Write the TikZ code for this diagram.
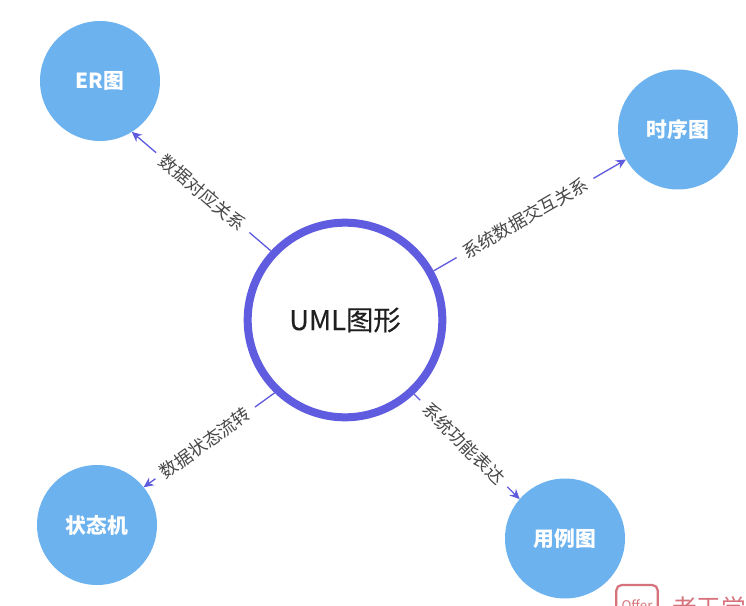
\documentclass[tikz,border=0pt]{standalone}
\usepackage{fontspec}
\setmainfont{Noto Sans CJK SC}
\newfontfamily\medfont[FakeBold=0.25]{Noto Sans CJK SC}
\usetikzlibrary{arrows.meta}
\definecolor{bluefill}{HTML}{6CB2EE}
\definecolor{ringcol}{HTML}{5F5CE0}
\definecolor{marksred}{HTML}{D6727C}
\definecolor{labelcol}{HTML}{484848}
\tikzset{
  leaf/.style={circle,fill=bluefill,minimum size=90pt,inner sep=0pt,outer sep=0pt,text=white,font=\fontsize{15.6}{18}\selectfont\bfseries},
  hub/.style={circle,draw=ringcol,line width=6pt,fill=white,minimum size=146pt,inner sep=0pt,text=black!88,font=\medfont\fontsize{20.5}{26}\selectfont},
  link/.style={draw=ringcol,line width=1pt,-{Stealth[length=7.5pt,width=7pt]}},
  tag/.style={fill=white,inner sep=6pt,text=labelcol,font=\fontsize{13.3}{16}\selectfont,sloped},
  markbox/.style={draw=marksred,line width=1.7pt,rounded corners=4pt,minimum width=31pt,minimum height=30pt,inner sep=0pt,text=marksred,font=\fontsize{10}{12}\selectfont},
  marktext/.style={anchor=west,inner sep=0pt,text=marksred,font=\fontsize{18.5}{22}\selectfont}
}
\begin{document}
\begin{tikzpicture}[x=0.75pt,y=-0.75pt]
\useasboundingbox (0,0) rectangle (746,606);
\clip (0,0) rectangle (746,606);
\node[hub] (uml) at (345,320) {UML图形};
\node[leaf] (er) at (100,81) {ER图};
\node[leaf] (seq) at (678,129.5) {时序图};
\node[leaf] (state) at (97,525) {状态机};
\node[leaf] (usecase) at (565,538.5) {用例图};
\path[link] (uml.137.4) -- node[tag,pos=.49] {数据对应关系} (er.-58.7);
\path[link] (uml.29.1) -- node[tag,pos=.475] {系统数据交互关系} (seq.210.5);
\path[link] (uml.-134.2) -- node[tag,pos=.53] {数据状态流转} (state.39.6);
\path[link] (uml.-47) -- node[tag,pos=.47] {系统功能表达} (usecase.139.7);
\node[markbox] (markicon) at (637,605) {Offer};
\node[marktext] (marklabel) at (672,608) {老王学姐};
\end{tikzpicture}
\end{document}
